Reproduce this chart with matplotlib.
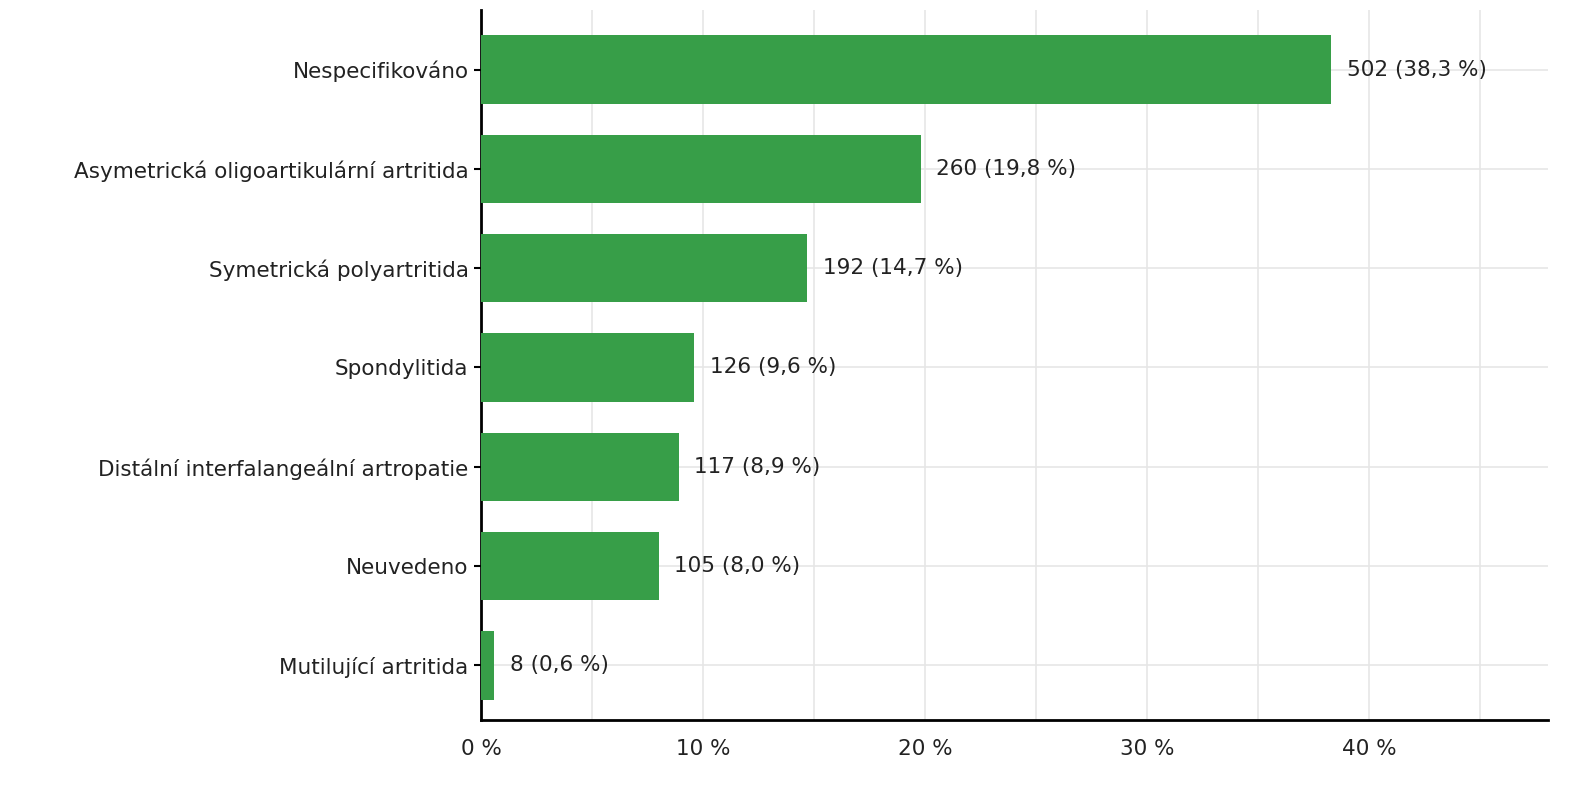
import matplotlib
matplotlib.use("Agg")
import matplotlib.pyplot as plt
from matplotlib.ticker import MultipleLocator, FuncFormatter

categories = ["Nespecifikováno", "Asymetrická oligoartikulární artritida", "Symetrická polyartritida",
              "Spondylitida", "Distální interfalangeální artropatie", "Neuvedeno", "Mutilující artritida"]
counts = [502, 260, 192, 126, 117, 105, 8]
percents = [38.3, 19.8, 14.7, 9.6, 8.9, 8.0, 0.6]

fig = plt.figure(figsize=(15.81, 8), dpi=100)
ax = fig.add_axes([481/1581, 80/800, (1548-481)/1581, (720-10)/800])
y = list(range(len(categories)))
ax.barh(y, percents, height=0.69, color="#379e48", zorder=3)
for yi, c, p in zip(y, counts, percents):
    ax.text(p + 0.7, yi, f"{c} ({p:.1f} %)".replace(".", ","), va="center", ha="left",
            fontsize=15.5, color="#222222", zorder=4)
ax.set_ylim(len(categories) - 1 + 0.55, -0.6)
ax.set_xlim(0, 48.06)
ax.set_yticks(y)
ax.set_yticklabels(categories, fontsize=15.5, color="#222222")
ax.xaxis.set_major_locator(MultipleLocator(10))
ax.xaxis.set_minor_locator(MultipleLocator(5))
ax.xaxis.set_major_formatter(FuncFormatter(lambda v, _: f"{int(v)} %"))
ax.tick_params(axis="x", labelsize=15.5, colors="#222222", pad=14, length=0, which="both")
ax.tick_params(axis="y", length=5, width=1.5, pad=4)
ax.grid(True, which="both", color="#e6e6e6", lw=1.2, zorder=0)
for s in ["top", "right"]:
    ax.spines[s].set_visible(False)
ax.spines["left"].set_linewidth(2)
ax.spines["bottom"].set_linewidth(2)
fig.savefig("out.png", dpi=100, facecolor="white")
